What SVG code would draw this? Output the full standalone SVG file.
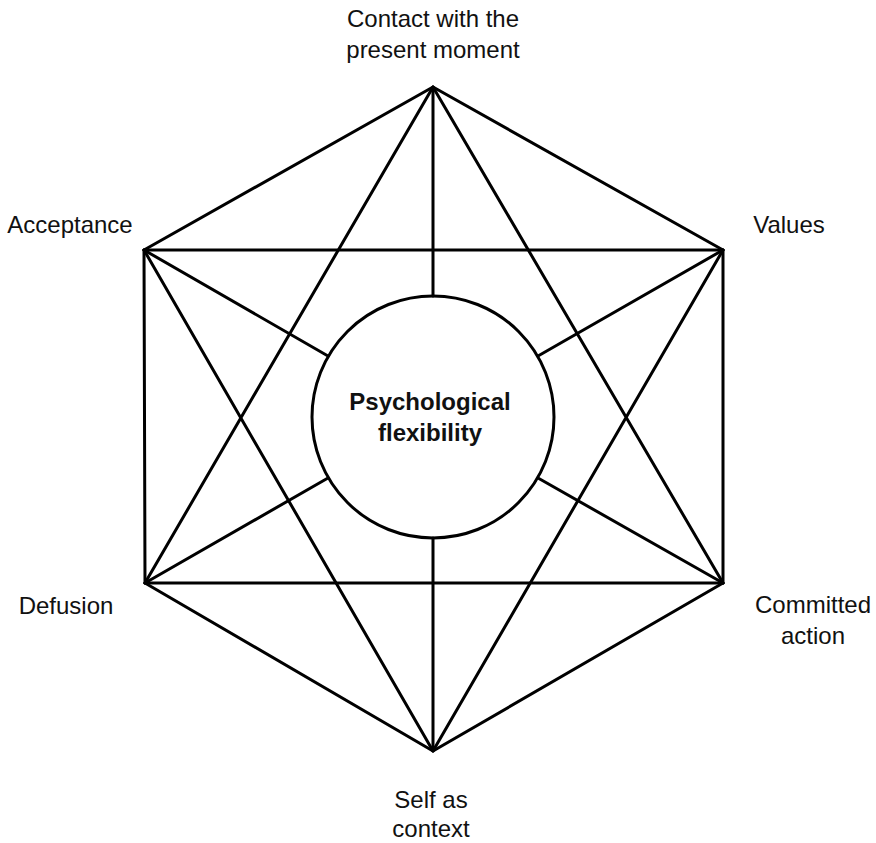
<svg xmlns="http://www.w3.org/2000/svg" width="876" height="843" viewBox="0 0 876 843">
<style>
.e{stroke:#000;stroke-width:3;fill:none;stroke-linecap:round;stroke-linejoin:round}
.t{font-family:"Liberation Sans",Arial,sans-serif;font-size:24px;fill:#111;text-anchor:middle}
.b{font-weight:bold}
</style>
<rect width="876" height="843" fill="#fff"/>
<g id="connectors">
<path class="e" d="M433 87 L144 250 M433 87 L723 250 M144 250 L145 583 M723 250 L723 583 M145 583 L433 751 M723 583 L433 751"/>
<path class="e" d="M144 250 L723 250 M145 583 L723 583"/>
<path class="e" d="M433 87 L145 583 M433 87 L723 583 M433 751 L144 250 M433 751 L723 250"/>
<path class="e" d="M433 87 L433 296 M433 751 L433 538 M144 250 L328 356 M723 250 L538 356 M145 583 L328 478 M723 583 L538 478"/>
</g>
<g id="center">
<circle class="e" cx="433" cy="417" r="121" fill="#fff"/>
<text class="t b" x="430" y="410">Psychological</text>
<text class="t b" x="430" y="441">flexibility</text>
</g>
<g id="contact"><text class="t" x="433" y="27">Contact with the</text><text class="t" x="433" y="58">present moment</text></g>
<g id="acceptance"><text class="t" x="70" y="233">Acceptance</text></g>
<g id="values"><text class="t" x="789" y="233">Values</text></g>
<g id="defusion"><text class="t" x="66" y="614">Defusion</text></g>
<g id="committed"><text class="t" x="813" y="613">Committed</text><text class="t" x="813" y="644">action</text></g>
<g id="self"><text class="t" x="431" y="808">Self as</text><text class="t" x="431" y="837">context</text></g>
</svg>
